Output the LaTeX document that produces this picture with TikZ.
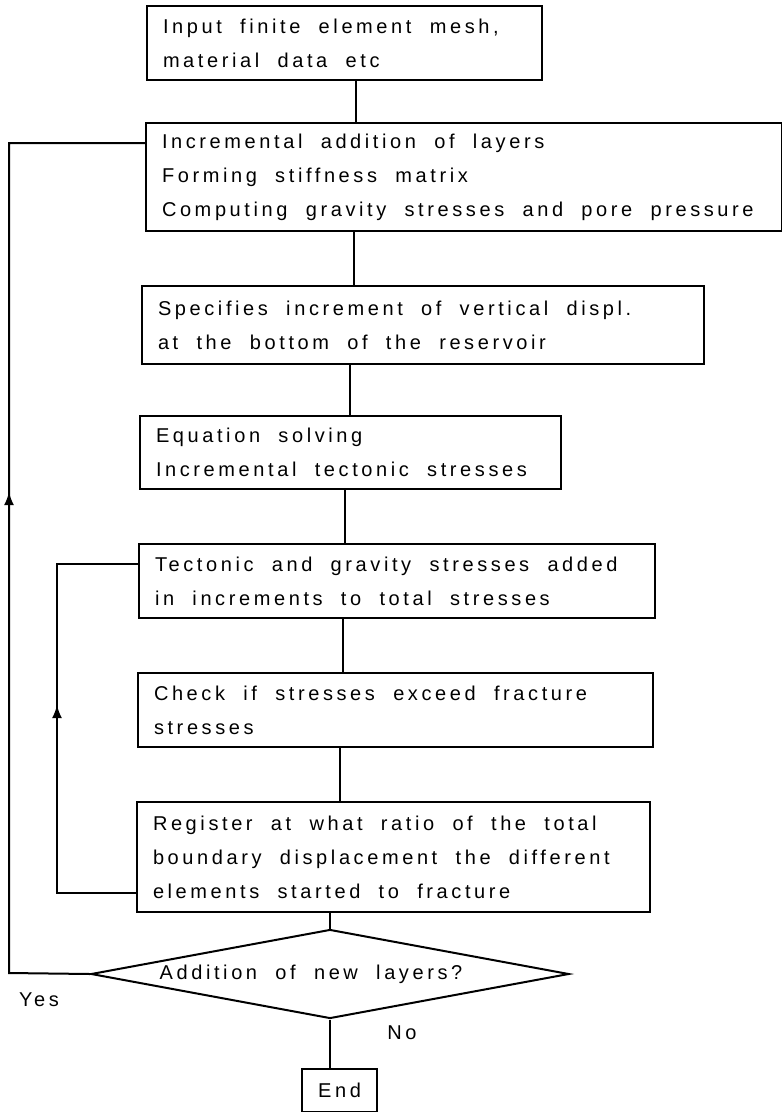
\documentclass[tikz,border=0pt]{standalone}
\usepackage{fontspec}
\newfontfamily\lettering[LetterSpace=18,WordSpace=2]{Liberation Sans}
\usetikzlibrary{arrows.meta,shapes.geometric}

\tikzset{
  stepbox/.style={draw, rectangle, line width=2pt, anchor=north west,
    inner xsep=16pt, inner ysep=0pt, align=flush left},
  endbox/.style={draw, rectangle, line width=2pt, anchor=north west,
    minimum width=75pt, minimum height=43pt, inner sep=0pt},
  askbox/.style={draw, diamond, line width=2pt, aspect=5.4,
    minimum width=478pt, minimum height=89pt, inner sep=0pt},
  link/.style={line width=2pt},
  uparrow/.style={line width=2pt, -{Latex[length=13pt,width=10pt]}},
}

\begin{document}
\begin{tikzpicture}[x=1pt, y=-1pt, font=\lettering\fontsize{20}{34}\selectfont]

    \useasboundingbox (0,0) rectangle (782,1112);

    % Steps
    \node[stepbox, text width=363pt, minimum height=74pt] (input) at (146,5)
        {Input finite element mesh,\\material data etc};
    \node[stepbox, text width=604pt, minimum height=108pt] (layers) at (145,122)
        {Incremental addition of layers\\Forming stiffness matrix\\Computing gravity stresses and pore pressure};
    \node[stepbox, text width=530pt, minimum height=78pt] (displ) at (141,285)
        {Specifies increment of vertical displ.\\at the bottom of the reservoir};
    \node[stepbox, text width=389pt, minimum height=73pt] (solve) at (139,415)
        {Equation solving\\Incremental tectonic stresses};
    \node[stepbox, text width=484pt, minimum height=74pt] (add) at (138,543)
        {Tectonic and gravity stresses added\\in increments to total stresses};
    \node[stepbox, text width=483pt, minimum height=74pt] (check) at (137,672)
        {Check if stresses exceed fracture\\stresses};
    \node[stepbox, text width=481pt, minimum height=110pt] (register) at (136,801)
        {Register at what ratio of the total\\boundary displacement the different\\elements started to fracture};

    % Decision and end
    \node[askbox] (decision) at (330,974) {Addition of new layers?\hspace*{38pt}};
    \node[endbox] (finish) at (301,1068) {End};
    \node (yes) at (39,1000) {Yes};
    \node (no) at (402,1033) {No};

    % Main line
    \draw[link] (input.south -| 356,0) -- (layers.north -| 356,0);
    \draw[link] (layers.south -| 354,0) -- (displ.north -| 354,0);
    \draw[link] (displ.south -| 350,0) -- (solve.north -| 350,0);
    \draw[link] (solve.south -| 345,0) -- (add.north -| 345,0);
    \draw[link] (add.south -| 343,0) -- (check.north -| 343,0);
    \draw[link] (check.south -| 340,0) -- (register.north -| 340,0);
    \draw[link] (register.south -| decision.north) -- (decision.north);
    \draw[link] (decision.south) -- (finish.north -| decision.south);

    % Loop back for new layers
    \coordinate (yesturn) at (9,973);
    \coordinate (yestop) at (9,143);
    \draw[link] (decision.west) -- (yesturn) -- (yestop) -- (yestop -| layers.west);
    \draw[uparrow] (yesturn) -- (9,492);

    % Loop back for next increment
    \coordinate (incbot) at (57,893);
    \coordinate (inctop) at (57,564);
    \draw[link] (register.west |- incbot) -- (incbot) -- (inctop) -- (inctop -| add.west);
    \draw[uparrow] (incbot) -- (57,705);

\end{tikzpicture}
\end{document}
